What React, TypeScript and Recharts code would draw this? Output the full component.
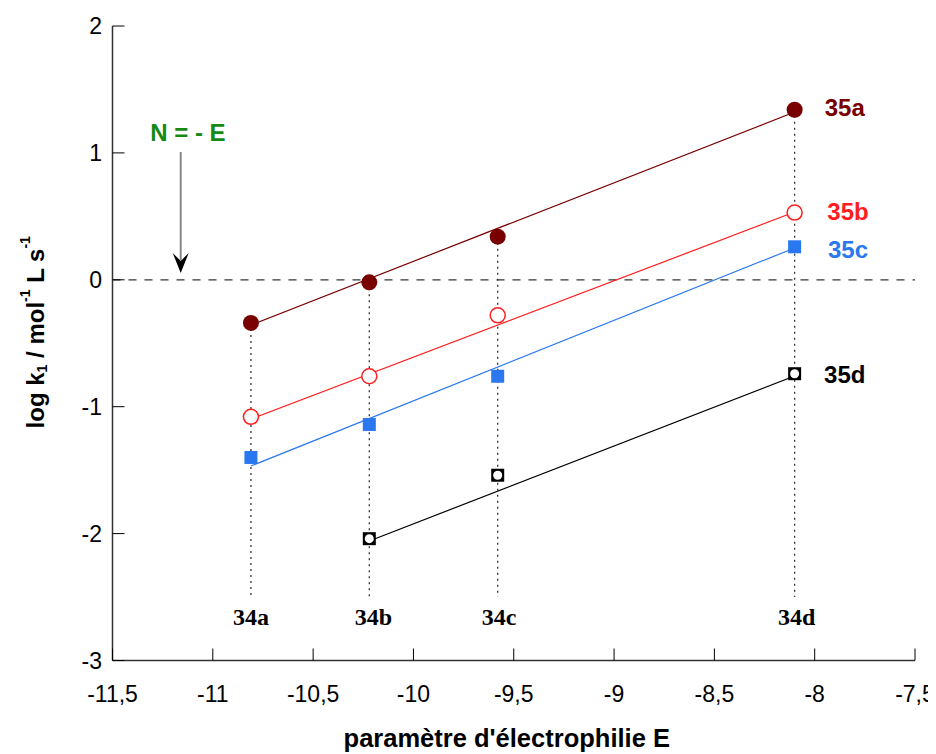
import React from 'react';
import {
  ComposedChart, XAxis, YAxis, Scatter, ReferenceLine, ReferenceDot, Label,
} from 'recharts';

// electrophilicity parameters of 34a-34d
const categories = ['34a', '34b', '34c', '34d'];
const E = [-10.81, -10.22, -9.58, -8.1];
// log k1 values for 35a-35d
const k35a = [-0.34, -0.02, 0.34, 1.34];
const k35b = [-1.08, -0.76, -0.28, 0.53];
const k35c = [-1.4, -1.14, -0.76, 0.26];
const k35d = [null, -2.04, -1.54, -0.74];
// regression line endpoints [x1, y1, x2, y2]
const fit35a = [-10.81, -0.356, -8.1, 1.322];
const fit35b = [-10.81, -1.097, -8.1, 0.534];
const fit35c = [-10.81, -1.467, -8.1, 0.251];
const fit35d = [-10.22, -2.058, -8.1, -0.758];
// series labels and their positions
const seriesNames = ['35a', '35b', '35c', '35d'];
const seriesLabelX = [-7.85, -7.834, -7.834, -7.85];
const seriesLabelY = [1.354, 0.542, 0.242, -0.75];
// category label x positions
const categoryLabelX = [-10.81, -10.2, -9.573, -8.09];
// axis ticks
const xTicks = [-11.5, -11, -10.5, -10, -9.5, -9, -8.5, -8, -7.5];
const yTicks = [-3, -2, -1, 0, 1, 2];
// annotation N = -E
const annotText = 'N = - E';
const annotPos = { x: -11.124, y: 1.157 };
const arrow = { x: -11.16, yTop: 1.007, yTip: 0.054 };

const colors = {
  a: '#780000',
  b: '#FF1E1E',
  c: '#2A78F0',
  d: '#000000',
  green: '#148A14',
};

const FONT = 'Arial, "Liberation Sans", sans-serif';
const SERIF = '"Times New Roman", "Liberation Serif", serif';
const fmt = (v: number) => String(v).replace('.', ',');

const toPts = (ys: (number | null)[]) =>
  ys.map((y, i) => ({ x: E[i], y })).filter((p) => p.y !== null);

const FilledCircle = (color: string) => (p: any) => (
  <circle cx={p.cx} cy={p.cy} r={8} fill={color} />
);
const OpenCircle = (color: string) => (p: any) => (
  <circle cx={p.cx} cy={p.cy} r={7.5} fill="white" stroke={color} strokeWidth={1.5} />
);
const FilledSquare = (color: string) => (p: any) => (
  <rect x={p.cx - 6.5} y={p.cy - 6.5} width={13} height={13} fill={color} />
);
const SquareRing = (p: any) => (
  <g>
    <rect x={p.cx - 6.5} y={p.cy - 6.5} width={13} height={13} fill="#000" />
    <circle cx={p.cx} cy={p.cy} r={4.5} fill="#fff" />
  </g>
);

const TextShape = (color: string, size: number, family: string, text: string) => (p: any) => (
  <text
    x={p.cx}
    y={p.cy}
    fill={color}
    fontSize={size}
    fontFamily={family}
    fontWeight="bold"
    textAnchor="middle"
    dominantBaseline="central"
  >
    {text}
  </text>
);

const ArrowHead = (p: any) => (
  <path
    d={`M ${p.cx} ${p.cy} L ${p.cx - 8} ${p.cy - 20} L ${p.cx} ${p.cy - 12} L ${p.cx + 8} ${p.cy - 20} Z`}
    fill="#000"
  />
);

// inside ticks with labels
const BottomTick = (p: any) => (
  <g>
    <line x1={p.x} x2={p.x} y1={p.y} y2={p.y - 12} stroke="#000" strokeWidth={1} />
    <text
      x={p.x}
      y={p.y + 33.5}
      textAnchor="middle"
      dominantBaseline="central"
      fontSize={23}
      fontFamily={FONT}
      fill="#000"
    >
      {fmt(p.payload.value)}
    </text>
  </g>
);
const TopTick = (p: any) => (
  <line x1={p.x} x2={p.x} y1={p.y} y2={p.y + 12} stroke="#000" strokeWidth={1} />
);
const LeftTick = (p: any) => (
  <g>
    <line x1={p.x} x2={p.x + 12} y1={p.y} y2={p.y} stroke="#000" strokeWidth={1} />
    <text
      x={p.x - 10.5}
      y={p.y}
      textAnchor="end"
      dominantBaseline="central"
      fontSize={23}
      fontFamily={FONT}
      fill="#000"
    >
      {fmt(p.payload.value)}
    </text>
  </g>
);
const RightTick = (p: any) => (
  <line x1={p.x} x2={p.x - 12} y1={p.y} y2={p.y} stroke="#000" strokeWidth={1} />
);

const YLabel = (props: any) => {
  const vb = props.viewBox;
  const cx = 27;
  const cy = vb.y + vb.height / 2 - 11;
  return (
    <text
      x={cx}
      y={cy}
      transform={`rotate(-90 ${cx} ${cy})`}
      textAnchor="middle"
      dominantBaseline="central"
      fontFamily={FONT}
      fontWeight="bold"
      fontSize={24}
      fill="#000"
    >
      log k<tspan fontSize={14} dy={7}>1</tspan>
      <tspan dy={-7}> / mol</tspan>
      <tspan fontSize={14} dy={-10}>-1</tspan>
      <tspan dy={10}> L s</tspan>
      <tspan fontSize={14} dy={-10}>-1</tspan>
    </text>
  );
};

const XLabel = (props: any) => {
  const vb = props.viewBox;
  const cx = vb.x + vb.width / 2 - 7;
  return (
    <text
      x={cx}
      y={739}
      textAnchor="middle"
      fontFamily={FONT}
      fontWeight="bold"
      fontSize={25.5}
      fill="#000"
    >
      paramètre d'électrophilie E
    </text>
  );
};

const axisStroke = { stroke: '#333', strokeWidth: 1.5 };

export default function App() {
  const series = [
    { data: toPts(k35a), shape: FilledCircle(colors.a) },
    { data: toPts(k35b), shape: OpenCircle(colors.b) },
    { data: toPts(k35c), shape: FilledSquare(colors.c) },
    { data: toPts(k35d), shape: SquareRing },
  ];
  const fits = [
    { f: fit35a, c: colors.a },
    { f: fit35b, c: colors.b },
    { f: fit35c, c: colors.c },
    { f: fit35d, c: colors.d },
  ];
  const labelColors = [colors.a, colors.b, colors.c, colors.d];
  const dropTops = E.map((_, i) => k35a[i] as number);

  return (
    <ComposedChart
      width={928}
      height={746}
      margin={{ top: 18, right: 21, left: 0, bottom: 0 }}
    >
      <XAxis
        xAxisId="x"
        type="number"
        dataKey="x"
        domain={[-11.5, -7.5]}
        ticks={xTicks}
        allowDataOverflow
        height={93.5}
        tickSize={0}
        tickMargin={0}
        axisLine={axisStroke}
        tickLine={false}
        tick={BottomTick}
        interval={0}
        label={<Label content={XLabel} />}
      />
      <XAxis
        xAxisId="top"
        orientation="top"
        type="number"
        domain={[-11.5, -7.5]}
        ticks={xTicks}
        allowDataOverflow
        height={0}
        tickSize={0}
        tickMargin={0}
        tick={TopTick}
        interval={0}
        axisLine={axisStroke}
        tickLine={false}
      />
      <YAxis
        yAxisId="y"
        type="number"
        dataKey="y"
        domain={[-3, 2]}
        ticks={yTicks}
        allowDataOverflow
        width={104.5}
        tickSize={0}
        tickMargin={0}
        axisLine={axisStroke}
        tickLine={false}
        tick={LeftTick}
        interval={0}
        label={<Label content={YLabel} />}
      />
      <YAxis
        yAxisId="right"
        orientation="right"
        type="number"
        domain={[-3, 2]}
        ticks={yTicks}
        allowDataOverflow
        width={0}
        tickSize={0}
        tickMargin={0}
        tick={RightTick}
        interval={0}
        axisLine={axisStroke}
        tickLine={false}
      />

      <ReferenceLine
        xAxisId="x"
        yAxisId="y"
        y={0}
        stroke="#333"
        strokeWidth={1.2}
        strokeDasharray="8 8"
      />

      {E.map((x, i) => (
        <ReferenceLine
          key={`drop-${i}`}
          xAxisId="x"
          yAxisId="y"
          segment={[{ x, y: dropTops[i] }, { x, y: -2.5 }]}
          stroke="#333"
          strokeWidth={1.3}
          strokeDasharray="2 4"
        />
      ))}

      {fits.map((s, i) => (
        <ReferenceLine
          key={`fit-${i}`}
          xAxisId="x"
          yAxisId="y"
          segment={[{ x: s.f[0], y: s.f[1] }, { x: s.f[2], y: s.f[3] }]}
          stroke={s.c}
          strokeWidth={1.2}
        />
      ))}

      <ReferenceLine
        xAxisId="x"
        yAxisId="y"
        segment={[{ x: arrow.x, y: arrow.yTop }, { x: arrow.x, y: arrow.yTip + 0.1 }]}
        stroke="#888"
        strokeWidth={2}
      />
      <ReferenceDot
        xAxisId="x"
        yAxisId="y"
        x={arrow.x}
        y={arrow.yTip}
        shape={ArrowHead}
      />
      <ReferenceDot
        xAxisId="x"
        yAxisId="y"
        x={annotPos.x}
        y={annotPos.y}
        shape={TextShape(colors.green, 24, FONT, annotText)}
      />

      {series.map((s, i) => (
        <Scatter
          key={`s-${i}`}
          xAxisId="x"
          yAxisId="y"
          data={s.data}
          shape={s.shape}
          isAnimationActive={false}
        />
      ))}

      {seriesNames.map((n, i) => (
        <ReferenceDot
          key={`sl-${i}`}
          xAxisId="x"
          yAxisId="y"
          x={seriesLabelX[i]}
          y={seriesLabelY[i]}
          shape={TextShape(labelColors[i], 24, FONT, n)}
        />
      ))}

      {categories.map((c, i) => (
        <ReferenceDot
          key={`cl-${i}`}
          xAxisId="x"
          yAxisId="y"
          x={categoryLabelX[i]}
          y={-2.66}
          shape={TextShape('#000', 24, SERIF, c)}
        />
      ))}
    </ComposedChart>
  );
}
